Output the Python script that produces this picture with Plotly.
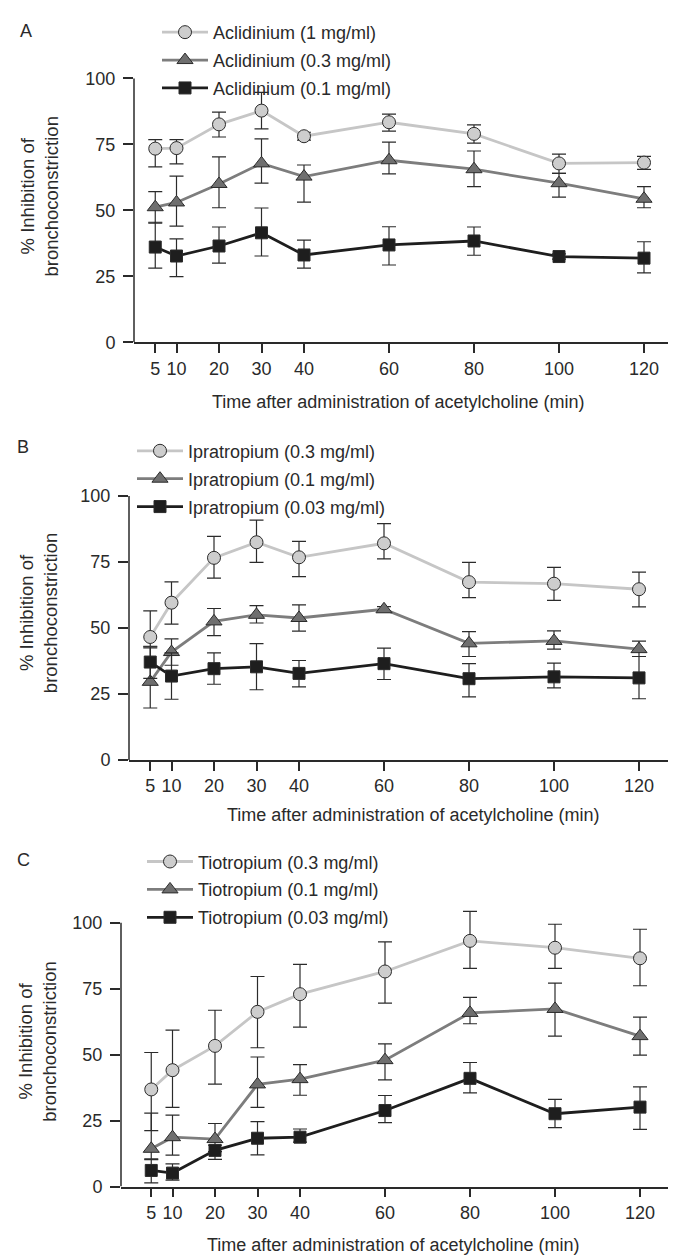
import plotly.graph_objects as go

W, H = 676, 1256
FONT = "Liberation Sans, Arial, Helvetica, sans-serif"
TXT = "#2a2a2a"

time_min = [5, 10, 20, 30, 40, 60, 80, 100, 120]
x_tick_labels = ["5", "10", "20", "30", "40", "60", "80", "100", "120"]
y_tick_vals = [0, 25, 50, 75, 100]

# Panel A: Aclidinium
acl_names = ["Aclidinium (1 mg/ml)", "Aclidinium (0.3 mg/ml)", "Aclidinium (0.1 mg/ml)"]
acl_1 = [73.4, 73.6, 82.6, 87.8, 78.1, 83.4, 79.0, 67.8, 68.1]
acl_1_plus = [3.4, 3.2, 4.6, 6.9, 1.5, 3.1, 3.4, 3.5, 2.4]
acl_1_minus = [6.9, 6.0, 4.8, 6.9, 1.5, 3.4, 3.5, 3.8, 2.6]
acl_03 = [51.2, 53.0, 60.0, 67.8, 62.8, 69.0, 65.6, 60.3, 54.4]
acl_03_plus = [5.9, 10.0, 10.3, 9.3, 4.4, 6.9, 6.9, 3.7, 4.6]
acl_03_minus = [6.0, 9.0, 9.0, 7.5, 9.7, 5.2, 6.6, 5.3, 3.4]
acl_01 = [36.1, 32.7, 36.5, 41.5, 33.1, 36.9, 38.4, 32.5, 31.9]
acl_01_plus = [9.4, 6.5, 7.2, 9.4, 5.6, 6.9, 5.3, 1.0, 6.2]
acl_01_minus = [8.0, 7.8, 6.5, 8.8, 5.0, 7.6, 5.4, 1.0, 5.6]

# Panel B: Ipratropium
ipr_names = ["Ipratropium (0.3 mg/ml)", "Ipratropium (0.1 mg/ml)", "Ipratropium (0.03 mg/ml)"]
ipr_03 = [46.6, 59.6, 76.6, 82.5, 76.8, 82.1, 67.4, 66.8, 64.7]
ipr_03_plus = [9.9, 7.9, 8.1, 8.4, 6.0, 7.5, 7.5, 6.2, 6.5]
ipr_03_minus = [3.5, 8.1, 7.7, 7.6, 7.3, 5.9, 5.9, 6.3, 6.7]
ipr_01 = [29.6, 40.9, 52.5, 55.0, 53.8, 57.1, 44.2, 45.1, 42.0]
ipr_01_plus = [13.3, 5.0, 4.9, 3.5, 5.0, 1.0, 4.4, 3.8, 3.0]
ipr_01_minus = [9.9, 5.0, 5.4, 3.1, 5.0, 1.0, 5.0, 3.1, 2.8]
ipr_003 = [37.1, 31.8, 34.6, 35.3, 32.8, 36.5, 30.8, 31.5, 31.1]
ipr_003_plus = [5.4, 8.8, 6.0, 8.8, 4.9, 5.9, 5.7, 5.2, 8.1]
ipr_003_minus = [6.2, 8.8, 5.9, 8.7, 5.1, 6.0, 6.9, 4.2, 7.9]

# Panel C: Tiotropium
tio_names = ["Tiotropium (0.3 mg/ml)", "Tiotropium (0.1 mg/ml)", "Tiotropium (0.03 mg/ml)"]
tio_03 = [36.8, 44.1, 53.3, 66.2, 72.9, 81.5, 93.1, 90.5, 86.5]
tio_03_plus = [14.0, 15.2, 13.5, 13.4, 11.3, 11.2, 11.2, 8.9, 11.0]
tio_03_minus = [15.6, 14.1, 14.5, 13.6, 12.5, 12.0, 10.4, 7.8, 10.4]
tio_01 = [14.3, 18.7, 18.0, 38.7, 40.7, 47.9, 65.8, 67.3, 57.0]
tio_01_plus = [13.5, 8.4, 5.9, 10.4, 5.5, 6.2, 5.9, 9.8, 7.2]
tio_01_minus = [3.8, 6.8, 4.8, 8.7, 6.1, 7.5, 4.1, 10.3, 7.2]
tio_003 = [6.1, 5.1, 13.7, 18.3, 18.7, 28.8, 41.0, 27.6, 30.1]
tio_003_plus = [4.1, 3.5, 2.0, 6.3, 3.1, 5.7, 6.0, 5.4, 7.7]
tio_003_minus = [4.7, 2.7, 3.4, 6.3, 1.9, 4.6, 5.5, 5.3, 8.4]

STYLES = [
    dict(symbol="circle", size=13, fill="#cdcdcd", line="#c6c6c6"),
    dict(symbol="triangle-up", size=14, fill="#6f6f6f", line="#7d7d7d"),
    dict(symbol="square", size=12, fill="#1e1e1e", line="#1e1e1e"),
]

panels = [
    (acl_names, [(acl_1, acl_1_plus, acl_1_minus), (acl_03, acl_03_plus, acl_03_minus),
                 (acl_01, acl_01_plus, acl_01_minus)]),
    (ipr_names, [(ipr_03, ipr_03_plus, ipr_03_minus), (ipr_01, ipr_01_plus, ipr_01_minus),
                 (ipr_003, ipr_003_plus, ipr_003_minus)]),
    (tio_names, [(tio_03, tio_03_plus, tio_03_minus), (tio_01, tio_01_plus, tio_01_minus),
                 (tio_003, tio_003_plus, tio_003_minus)]),
]

fig = go.Figure()
for p, (names, series) in enumerate(panels):
    suffix = "" if p == 0 else str(p + 1)
    legend_id = "legend" + suffix
    for k, (vals, plus, minus) in enumerate(series):
        st = STYLES[k]
        fig.add_trace(go.Scatter(
            x=time_min, y=vals, name=names[k], mode="lines+markers",
            xaxis="x" + suffix, yaxis="y" + suffix,
            legend=legend_id, legendgroup=f"p{p}s{k}",
            line=dict(color=st["line"], width=2.8),
            marker=dict(symbol=st["symbol"], size=st["size"], color=st["fill"],
                        line=dict(color="#2b2b2b", width=1)),
            error_y=dict(type="data", symmetric=False, array=plus, arrayminus=minus,
                         color="#2b2b2b", thickness=1.2, width=7),
            cliponaxis=False,
        ))

def px_x(v):
    return v / W

def px_y(v):
    return 1 - v / H

axis_common = dict(linecolor=TXT, linewidth=1.5, ticks="outside",
                   tickcolor=TXT, tickwidth=1.5, showgrid=False, zeroline=False,
                   tickfont=dict(family=FONT, size=18, color=TXT))

# (y-axis pixel x, t=0 pixel x, y of value 0, y of value 100)
geom = [(126, 126, 337, 71), (121, 121, 758, 492), (113, 122, 1188, 922)]
ppm = 4.25  # pixels per minute
y_top = 107  # headroom so error bars above 100 are not clipped
layout = dict(width=W, height=H, margin=dict(l=0, r=0, t=0, b=0),
              plot_bgcolor="white", paper_bgcolor="white",
              font=dict(family=FONT, size=18, color=TXT))
shapes = []
for p, (ax_x, t0_x, y0, y100) in enumerate(geom):
    suffix = "" if p == 0 else str(p + 1)
    r0 = -(t0_x - ax_x) / ppm
    r1 = r0 + (W - ax_x) / ppm
    ppu = (y0 - y100) / 100.0
    ytop_px = y0 - ppu * y_top
    layout["xaxis" + suffix] = dict(axis_common, showline=True, domain=[px_x(ax_x), 1],
                                    range=[r0, r1], tickvals=time_min,
                                    ticktext=x_tick_labels, ticklen=9,
                                    anchor="y" + suffix)
    layout["yaxis" + suffix] = dict(axis_common, showline=False,
                                    domain=[px_y(y0), px_y(ytop_px)], range=[0, y_top],
                                    tickvals=y_tick_vals, ticklen=10, ticklabelstandoff=4,
                                    anchor="x" + suffix)
    # y-axis line spanning 0..100 only
    shapes.append(dict(type="line", xref=f"x{suffix} domain", yref="y" + suffix,
                       x0=0, x1=0, y0=0, y1=100,
                       line=dict(color=TXT, width=1.5), layer="above"))
layout["shapes"] = shapes

legend_pos = [(149, 6), (124, 428), (134, 842)]
for p, (lx, ly) in enumerate(legend_pos):
    key = "legend" if p == 0 else "legend" + str(p + 1)
    layout[key] = dict(x=px_x(lx), y=px_y(ly), xanchor="left", yanchor="top",
                       bgcolor="rgba(0,0,0,0)", borderwidth=0, tracegroupgap=1.5,
                       itemwidth=46,
                       font=dict(family=FONT, size=18, color=TXT))

annotations = []
letters = [("A", 18, 23), ("B", 15, 443), ("C", 15, 859)]
for t, x, y in letters:
    annotations.append(dict(text=t, x=px_x(x), y=px_y(y), xref="paper", yref="paper",
                            showarrow=False, xanchor="center", yanchor="middle",
                            font=dict(family=FONT, size=18, color=TXT)))
xtitles = [(390, 397), (405, 813), (385, 1247)]
for x, y in xtitles:
    annotations.append(dict(text="Time after administration of acetylcholine (min)",
                            x=px_x(x), y=px_y(y), xref="paper", yref="paper",
                            showarrow=False, xanchor="center", yanchor="middle",
                            font=dict(family=FONT, size=18, color=TXT)))
ytitles = [(31, 190), (30, 610), (30, 1042)]
for x, y in ytitles:
    annotations.append(dict(text="% Inhibition of<br>bronchoconstriction", textangle=-90,
                            x=px_x(x), y=px_y(y), xref="paper", yref="paper",
                            showarrow=False, xanchor="center", yanchor="middle",
                            font=dict(family=FONT, size=18.5, color=TXT)))
layout["annotations"] = annotations

fig.update_layout(**layout)
fig.write_html("out.html")
